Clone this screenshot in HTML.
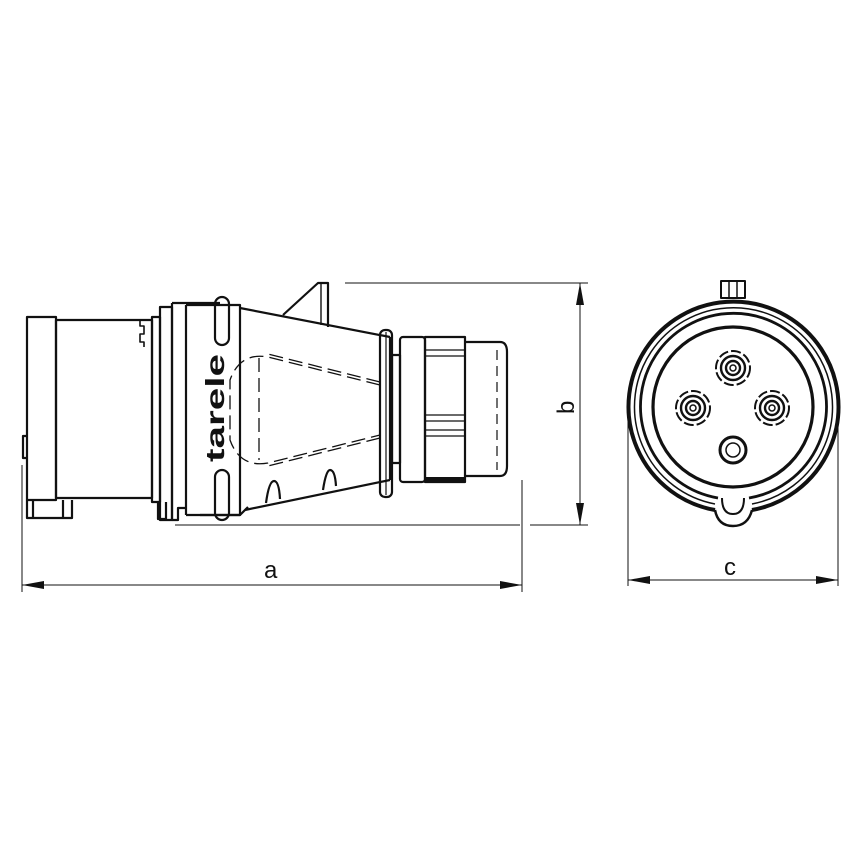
<!DOCTYPE html>
<html><head><meta charset="utf-8"><style>html,body{margin:0;padding:0;background:#fff}svg{display:block}</style></head>
<body>
<svg width="851" height="851" viewBox="0 0 851 851" xmlns="http://www.w3.org/2000/svg">
<rect width="851" height="851" fill="#fff"/>
<g fill="none" stroke="#111" stroke-width="2.2" stroke-linejoin="round">
<rect x="27" y="317" width="29" height="183"/>
<path d="M27 500 V518 H72 V500"/>
<line x1="33" y1="500" x2="33" y2="518"/>
<line x1="63" y1="500" x2="63" y2="518"/>
<path d="M27 436 h-4 v22 h4"/>
<rect x="56" y="320" width="96" height="178"/>
<path d="M140 320 v6 h4 v8 h-4 v8 h4 v5" stroke-width="1.6"/>
<rect x="152" y="317" width="8" height="185"/>
<path d="M160 307 h12 v213 h-12 z"/>
<path d="M172 303 H220 M172 303 V520"/>
<line x1="186" y1="305" x2="186" y2="515"/>
<path d="M158 502 v17 h8 v-17"/>
<path d="M172 520 h6 v-12 h8 M200 515 h40 l8 -8"/>
<path d="M186 305 H240 V515 H186"/>
<rect x="215" y="297" width="14" height="48" rx="7"/>
<rect x="215" y="470" width="14" height="50" rx="7"/>
<path d="M240 308 L390 337"/>
<path d="M245 510 L390 480"/>
<line x1="390" y1="337" x2="390" y2="480"/>
<path d="M283 315 L318 283 H328 V327"/>
<line x1="321" y1="283" x2="321" y2="325" stroke-width="1.4"/>
<path d="M266 503 q3 -22 8 -22 q5 0 6 18"/>
<path d="M323 490 q3 -20 7 -20 q5 0 6 16"/>
<g stroke-width="1.3" stroke-dasharray="14 6">
<path d="M380 385 L268 357 Q240 352 230 380 L230 440 Q240 468 268 463 L380 435"/>
<path d="M380 382 L268 354 M380 438 L268 466"/>
<line x1="259" y1="358" x2="259" y2="460"/>
</g>
<rect x="380" y="330" width="12" height="167" rx="5"/>
<line x1="386" y1="332" x2="386" y2="495" stroke-width="1.2"/>
<rect x="392" y="355" width="8" height="108"/>
<rect x="400" y="337" width="25" height="145" rx="3"/>
<rect x="425" y="337" width="40" height="145"/>
<g stroke-width="1.3">
<line x1="425" y1="350" x2="465" y2="350"/><line x1="425" y1="356" x2="465" y2="356"/>
<line x1="425" y1="415" x2="465" y2="415"/><line x1="425" y1="421" x2="465" y2="421"/>
<line x1="425" y1="430" x2="465" y2="430"/><line x1="425" y1="436" x2="465" y2="436"/>
</g>
<line x1="425" y1="479" x2="465" y2="479" stroke-width="4"/>
<path d="M465 342 H500 Q507 342 507 352 V466 Q507 476 500 476 H465"/>
<line x1="497" y1="350" x2="497" y2="470" stroke-width="1.2" stroke-dasharray="10 6"/>
</g>
<text x="0" y="0" transform="translate(224,462) rotate(-90)" font-family="Liberation Sans, sans-serif" font-weight="bold" font-size="26" fill="#111" textLength="108" lengthAdjust="spacingAndGlyphs">tarele</text>
<g stroke="#111" stroke-width="1" fill="none">
<line x1="345" y1="283" x2="588" y2="283"/>
<line x1="175" y1="525" x2="520" y2="525"/>
<line x1="530" y1="525" x2="588" y2="525"/>
<line x1="580" y1="283" x2="580" y2="525"/>
<line x1="22" y1="465" x2="22" y2="592"/>
<line x1="522" y1="480" x2="522" y2="592"/>
<line x1="22" y1="585" x2="522" y2="585"/>
<line x1="628" y1="410" x2="628" y2="586"/>
<line x1="838" y1="410" x2="838" y2="586"/>
<line x1="628" y1="580" x2="838" y2="580"/>
</g>
<g fill="#111">
<path d="M22 585 l22 -4 v8 z"/><path d="M522 585 l-22 -4 v8 z"/>
<path d="M580 283 l-4 22 h8 z"/><path d="M580 525 l-4 -22 h8 z"/>
<path d="M628 580 l22 -4 v8 z"/><path d="M838 580 l-22 -4 v8 z"/>
</g>
<g font-family="Liberation Sans, sans-serif" font-size="24" fill="#111">
<text x="264" y="578">a</text>
<text x="724" y="575">c</text>
<text transform="translate(574,414) rotate(-90)">b</text>
</g>
<g fill="none" stroke="#111" stroke-linejoin="round">
<rect x="721" y="281" width="24" height="17" stroke-width="2"/>
<line x1="729" y1="281" x2="729" y2="298" stroke-width="1.5"/>
<line x1="737" y1="281" x2="737" y2="298" stroke-width="1.5"/>
<path d="M715 510 A105 105 0 1 1 752 510" stroke-width="4"/>
<path d="M715 504 A99 99 0 1 1 752 504" stroke-width="1.5"/>
<path d="M718 498 A93 93 0 1 1 749 498" stroke-width="2.8"/>
<path d="M715 510 Q718 526 733 526 Q748 526 752 510" stroke-width="2.5"/>
<path d="M722 498 Q722 514 733 514 Q744 514 744 498" stroke-width="2"/>
<circle cx="733" cy="407" r="80" stroke-width="3.2"/>
<g stroke-width="2.4">
<circle cx="733" cy="368" r="12"/><circle cx="733" cy="368" r="7"/><circle cx="733" cy="368" r="3" stroke-width="1.5"/>
<circle cx="693" cy="408" r="12"/><circle cx="693" cy="408" r="7"/><circle cx="693" cy="408" r="3" stroke-width="1.5"/>
<circle cx="772" cy="408" r="12"/><circle cx="772" cy="408" r="7"/><circle cx="772" cy="408" r="3" stroke-width="1.5"/>
<circle cx="733" cy="450" r="13" stroke-width="3"/><circle cx="733" cy="450" r="7" stroke-width="1.5"/>
</g>
<g stroke-width="2" stroke-dasharray="10 3">
<circle cx="733" cy="368" r="17"/><circle cx="693" cy="408" r="17"/><circle cx="772" cy="408" r="17"/>
</g>
</g>
</svg>
</body></html>
